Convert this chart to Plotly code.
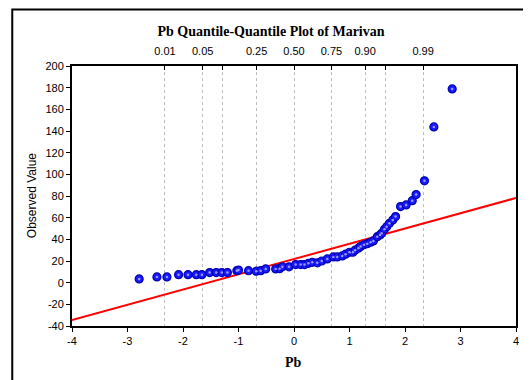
import plotly.graph_objects as go

z_vals = [-2.79, -2.47, -2.29, -2.08, -1.91, -1.76, -1.66, -1.52, -1.40, -1.30,
          -1.20, -1.03, -1.00, -0.82, -0.68, -0.60, -0.51, -0.33, -0.26, -0.21,
          -0.09, 0.03, 0.12, 0.19, 0.26, 0.33, 0.42, 0.50, 0.60, 0.71,
          0.78, 0.87, 0.93, 1.00, 1.06, 1.10, 1.16, 1.20, 1.26, 1.32,
          1.38, 1.43, 1.50, 1.55, 1.58, 1.63, 1.67, 1.72, 1.78, 1.83,
          1.92, 2.02, 2.13, 2.20, 2.35, 2.52, 2.85]
pb_vals = [3.5, 5.3, 5.3, 7.4, 7.4, 7.4, 7.4, 9.3, 9.3, 9.3,
           9.3, 11.1, 11.6, 11.1, 10.6, 11.1, 12.7, 12.7, 12.9, 14.6,
           14.6, 16.7, 16.7, 16.7, 17.9, 18.8, 18.3, 20.0, 21.9, 23.8,
           23.8, 24.7, 26.3, 28.1, 28.1, 30.0, 31.8, 33.4, 35.0, 36.0,
           37.3, 38.5, 42.5, 44.0, 45.6, 49.3, 51.7, 54.8, 57.9, 61.0,
           70.2, 71.8, 75.7, 81.3, 94.0, 143.8, 178.8]

# reference line (intercept ~ mean, slope ~ std dev)
line_intercept = 21.8
line_slope = 14.1
line_x = [-4, 4]

# axis ticks (hyphen minus as in the original)
x_ticks = [-4, -3, -2, -1, 0, 1, 2, 3, 4]
x_labels = ["-4", "-3", "-2", "-1", "0", "1", "2", "3", "4"]
y_ticks = [-40, -20, 0, 20, 40, 60, 80, 100, 120, 140, 160, 180, 200]
y_labels = ["-40", "-20", "0", "20", "40", "60", "80", "100", "120", "140", "160", "180", "200"]

# top probability axis
prob_pos = [-2.326, -1.645, -1.282, -0.674, 0.0, 0.674, 1.282, 1.645, 2.326]
prob_labels = ["0.01", "0.05", "", "0.25", "0.50", "0.75", "0.90", "", "0.99"]

tick_font = dict(family="Liberation Sans, Arial", size=11, color="black")

# the page body adds an 8px offset, so the figure is sized/placed to compensate
W, H, OFF = 531, 380, 8
L, T, R, B = 72, 66, 518, 326  # plot area in window pixels
PW, PH = R - L, B - T

fig = go.Figure()

fig.add_trace(go.Scatter(
    x=line_x,
    y=[line_intercept + line_slope * v for v in line_x],
    mode="lines",
    line=dict(color="#ff0000", width=2),
    showlegend=False,
    hoverinfo="skip",
))

fig.add_trace(go.Scatter(
    x=z_vals, y=pb_vals,
    mode="markers",
    marker=dict(size=8, color="#1a1aff", line=dict(color="#0000b4", width=1.2)),
    showlegend=False,
))

# small highlight in the middle of each dot, on the top axis (same range)
fig.add_trace(go.Scatter(
    x=z_vals, y=pb_vals,
    xaxis="x2",
    mode="markers",
    marker=dict(size=2.5, color="#9a9aff"),
    showlegend=False,
    hoverinfo="skip",
))

fig.update_layout(
    width=W - OFF, height=H - OFF,
    margin=dict(l=L - OFF, r=W - R, t=T - OFF, b=H - B),
    paper_bgcolor="white",
    plot_bgcolor="white",
    title=dict(
        text="<b>Pb Quantile-Quantile Plot of Marivan</b>",
        font=dict(family="Liberation Serif, Times New Roman", size=14, color="black"),
        x=(271 - OFF) / (W - OFF), xanchor="center",
        y=1 - (31 - OFF) / (H - OFF), yanchor="middle",
    ),
    xaxis=dict(
        range=[-4, 4], tickmode="array", tickvals=x_ticks, ticktext=x_labels,
        showgrid=False, zeroline=False,
        showline=True, linecolor="black", linewidth=2, mirror=True,
        ticks="outside", ticklen=4, tickcolor="black",
        tickfont=tick_font,
    ),
    xaxis2=dict(
        range=[-4, 4], overlaying="x", side="top",
        tickmode="array", tickvals=prob_pos, ticktext=prob_labels,
        showgrid=True, gridcolor="#bdbdbd", griddash="dot", gridwidth=1,
        zeroline=False, showline=False,
        ticks="inside", ticklen=4, tickcolor="black",
        ticklabelstandoff=8,
        tickfont=tick_font,
    ),
    yaxis=dict(
        range=[-40, 200], tickmode="array", tickvals=y_ticks, ticktext=y_labels,
        showgrid=False, zeroline=False,
        showline=True, linecolor="black", linewidth=2, mirror=True,
        ticks="outside", ticklen=4, tickcolor="black",
        tickfont=tick_font,
    ),
    annotations=[
        dict(text="<b>Pb</b>", xref="paper", yref="paper",
             x=(294 - L) / PW, y=(B - 362) / PH,
             xanchor="center", yanchor="middle", showarrow=False,
             font=dict(family="Liberation Serif, Times New Roman", size=14, color="black")),
        dict(text="Observed Value", xref="paper", yref="paper",
             x=(32 - L) / PW, y=0.5, textangle=-90,
             xanchor="center", yanchor="middle", showarrow=False,
             font=dict(family="Liberation Sans, Arial", size=12, color="black")),
    ],
    shapes=[
        # outer frame of the graph window
        dict(type="rect", xref="paper", yref="paper",
             x0=(12 - L) / PW, x1=(545 - L) / PW,
             y0=(B - 395) / PH, y1=(B - 9.5) / PH,
             line=dict(color="black", width=2), layer="below"),
    ],
)

fig.write_html("out.html")
